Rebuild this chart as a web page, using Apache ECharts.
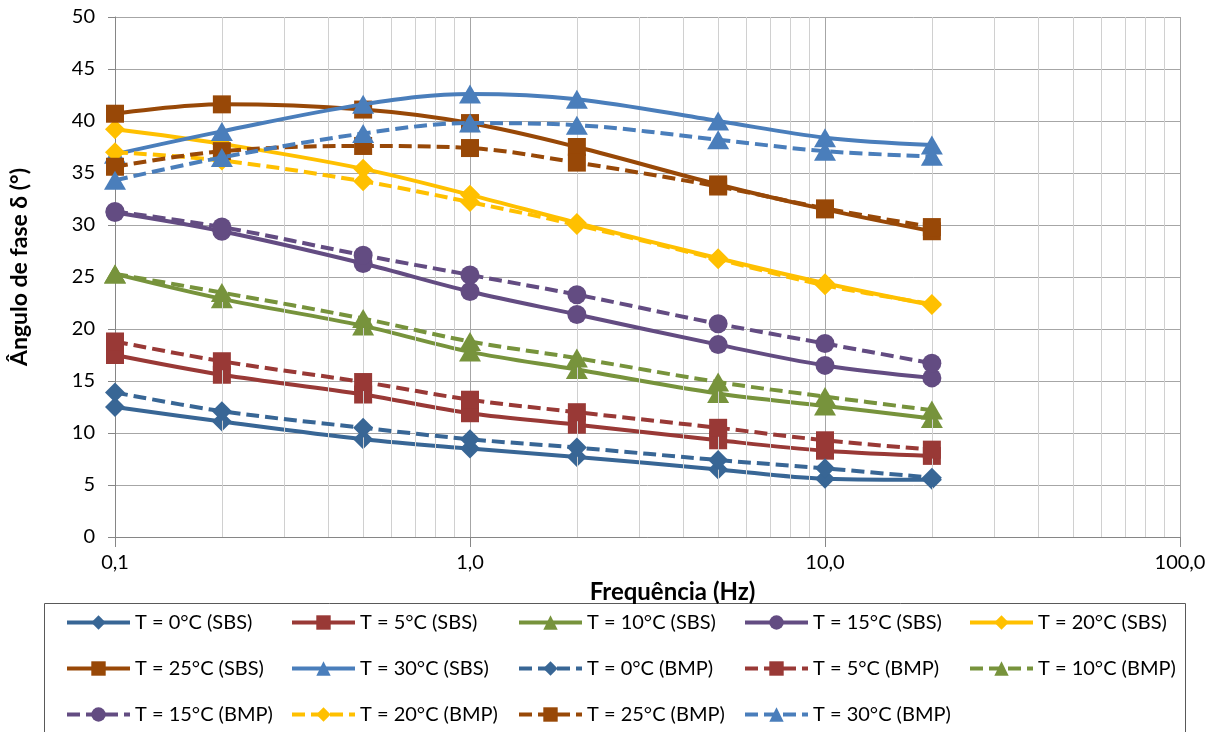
<!DOCTYPE html>
<html>
<head>
<meta charset="utf-8">
<title>Ângulo de fase × Frequência</title>
<script src="https://cdn.jsdelivr.net/npm/echarts@6/dist/echarts.min.js"></script>
<style>
  html, body { margin: 0; padding: 0; background: #fff; }
  #chart { width: 1213px; height: 732px; }
</style>
</head>
<body>
<div id="chart"></div>
<script>
// Frequencies (Hz)
const freq = [0.1, 0.2, 0.5, 1, 2, 5, 10, 20];

// Phase angle δ (°) — SBS binder
const sbs0  = [12.5, 11.1,  9.4,  8.5,  7.7,  6.5,  5.6,  5.5];
const sbs5  = [17.5, 15.6, 13.7, 11.9, 10.8,  9.3,  8.3,  7.8];
const sbs10 = [25.3, 22.9, 20.3, 17.8, 16.1, 13.8, 12.6, 11.4];
const sbs15 = [31.2, 29.4, 26.3, 23.6, 21.4, 18.5, 16.5, 15.3];
const sbs20 = [39.2, 37.8, 35.4, 32.9, 30.2, 26.8, 24.4, 22.3];
const sbs25 = [40.7, 41.6, 41.1, 39.8, 37.5, 33.9, 31.5, 29.4];
const sbs30 = [36.8, 39.0, 41.6, 42.6, 42.1, 40.0, 38.4, 37.7];

// Phase angle δ (°) — BMP binder
const bmp0  = [13.9, 12.1, 10.5,  9.4,  8.6,  7.4,  6.6,  5.7];
const bmp5  = [18.8, 16.9, 14.9, 13.2, 12.0, 10.5,  9.3,  8.4];
const bmp10 = [25.3, 23.5, 21.0, 18.8, 17.2, 14.9, 13.5, 12.2];
const bmp15 = [31.3, 29.8, 27.1, 25.2, 23.3, 20.5, 18.6, 16.7];
const bmp20 = [37.0, 36.2, 34.2, 32.2, 30.0, 26.7, 24.2, 22.4];
const bmp25 = [35.6, 37.1, 37.6, 37.4, 36.0, 33.7, 31.6, 29.8];
const bmp30 = [34.3, 36.5, 38.8, 39.8, 39.6, 38.2, 37.1, 36.6];

// Minor gridline positions on the log axis
const minorTicks = [0.2, 0.3, 0.4, 0.5, 0.6, 0.7, 0.8, 0.9,
                    2, 3, 4, 5, 6, 7, 8, 9,
                    20, 30, 40, 50, 60, 70, 80, 90];

const FONT = 'Lato, "Open Sans", sans-serif';
const DASH = [13, 6];

const seriesDefs = [
  { name: 'T = 0°C (SBS)',  data: sbs0,  color: '#386695', symbol: 'diamond',  size: 20, dash: 'solid' },
  { name: 'T = 5°C (SBS)',  data: sbs5,  color: '#993936', symbol: 'rect',     size: 18, dash: 'solid' },
  { name: 'T = 10°C (SBS)', data: sbs10, color: '#77933c', symbol: 'triangle', size: [22, 19], dash: 'solid' },
  { name: 'T = 15°C (SBS)', data: sbs15, color: '#634c82', symbol: 'circle',   size: 19, dash: 'solid' },
  { name: 'T = 20°C (SBS)', data: sbs20, color: '#ffc000', symbol: 'diamond',  size: 20, dash: 'solid' },
  { name: 'T = 25°C (SBS)', data: sbs25, color: '#984807', symbol: 'rect',     size: 18, dash: 'solid' },
  { name: 'T = 30°C (SBS)', data: sbs30, color: '#4a7ebb', symbol: 'triangle', size: [22, 19], dash: 'solid' },
  { name: 'T = 0°C (BMP)',  data: bmp0,  color: '#386695', symbol: 'diamond',  size: 20, dash: DASH },
  { name: 'T = 5°C (BMP)',  data: bmp5,  color: '#993936', symbol: 'rect',     size: 18, dash: DASH },
  { name: 'T = 10°C (BMP)', data: bmp10, color: '#77933c', symbol: 'triangle', size: [22, 19], dash: DASH },
  { name: 'T = 15°C (BMP)', data: bmp15, color: '#634c82', symbol: 'circle',   size: 19, dash: DASH },
  { name: 'T = 20°C (BMP)', data: bmp20, color: '#ffc000', symbol: 'diamond',  size: 20, dash: DASH },
  { name: 'T = 25°C (BMP)', data: bmp25, color: '#984807', symbol: 'rect',     size: 18, dash: DASH },
  { name: 'T = 30°C (BMP)', data: bmp30, color: '#4a7ebb', symbol: 'triangle', size: [22, 19], dash: DASH }
];

const series = [];

// Minor vertical gridlines (2..9 within each decade)
series.push({
  type: 'line',
  data: [],
  silent: true,
  z: 0,
  markLine: {
    silent: true,
    symbol: 'none',
    label: { show: false },
    animation: false,
    lineStyle: { color: '#d0d0d0', width: 1, type: 'solid' },
    data: minorTicks.map(v => ({ xAxis: v }))
  }
});

seriesDefs.forEach((d, i) => {
  series.push({
    name: d.name,
    type: 'line',
    data: freq.map((f, k) => [f, d.data[k]]),
    smooth: 0.35,
    symbol: d.symbol,
    symbolSize: d.size,
    z: 2 + i,
    itemStyle: { color: d.color },
    lineStyle: { color: d.color, width: 4, type: d.dash },
    emphasis: { disabled: true }
  });
});

// Legend arranged as 5 columns × 3 rows (row-major order)
const colLeft = [65, 290, 517, 743, 968];
const legends = colLeft.map((left, c) => {
  const names = [];
  for (let r = 0; r < 3; r++) {
    const idx = r * 5 + c;
    if (idx < seriesDefs.length) names.push(seriesDefs[idx].name);
  }
  return {
    orient: 'vertical',
    left: left,
    top: 612,
    padding: 0,
    itemWidth: 63,
    itemHeight: 18,
    itemGap: 25,
    selectedMode: false,
    lineStyle: { width: 4 },
    data: names,
    textStyle: { fontFamily: FONT, fontSize: 20, color: '#000', lineHeight: 21 }
  };
});

const chart = echarts.init(document.getElementById('chart'), null, { renderer: 'canvas' });
chart.setOption({
  animation: false,
  backgroundColor: '#fff',
  grid: { left: 113, right: 33, top: 17, bottom: 195, containLabel: false },
  xAxis: {
    type: 'log',
    logBase: 10,
    min: 0.1,
    max: 100,
    name: 'Frequência (Hz)',
    nameLocation: 'middle',
    nameGap: 43,
    nameTextStyle: { fontFamily: FONT, fontSize: 24, fontWeight: 'bold', color: '#000', padding: [0, 0, 0, 50] },
    axisLine: { show: true, lineStyle: { color: '#868686', width: 1 } },
    axisTick: { show: true, length: 10, lineStyle: { color: '#868686' } },
    axisLabel: {
      fontFamily: FONT, fontSize: 20, color: '#000', margin: 16,
      formatter: v => v.toFixed(1).replace('.', ',')
    },
    splitLine: { show: true, lineStyle: { color: '#a6a6a6', width: 1 } }
  },
  yAxis: {
    type: 'value',
    min: 0,
    max: 50,
    interval: 5,
    name: 'Ângulo de fase δ (°)',
    nameLocation: 'middle',
    nameGap: 84,
    nameTextStyle: { fontFamily: FONT, fontSize: 23, fontWeight: 'bold', color: '#000', padding: [0, 0, 0, 20] },
    axisLine: { show: true, lineStyle: { color: '#868686', width: 1 } },
    axisTick: { show: true, length: 7, lineStyle: { color: '#868686' } },
    axisLabel: { fontFamily: FONT, fontSize: 20, color: '#000', margin: 20 },
    splitLine: { show: true, lineStyle: { color: '#a6a6a6', width: 1 } }
  },
  legend: legends,
  graphic: [{
    type: 'rect',
    left: 42,
    top: 601,
    shape: { width: 1141, height: 150 },
    style: { fill: 'none', stroke: '#595959', lineWidth: 1 },
    silent: true,
    z: -1
  }],
  series: series
});
</script>
</body>
</html>
